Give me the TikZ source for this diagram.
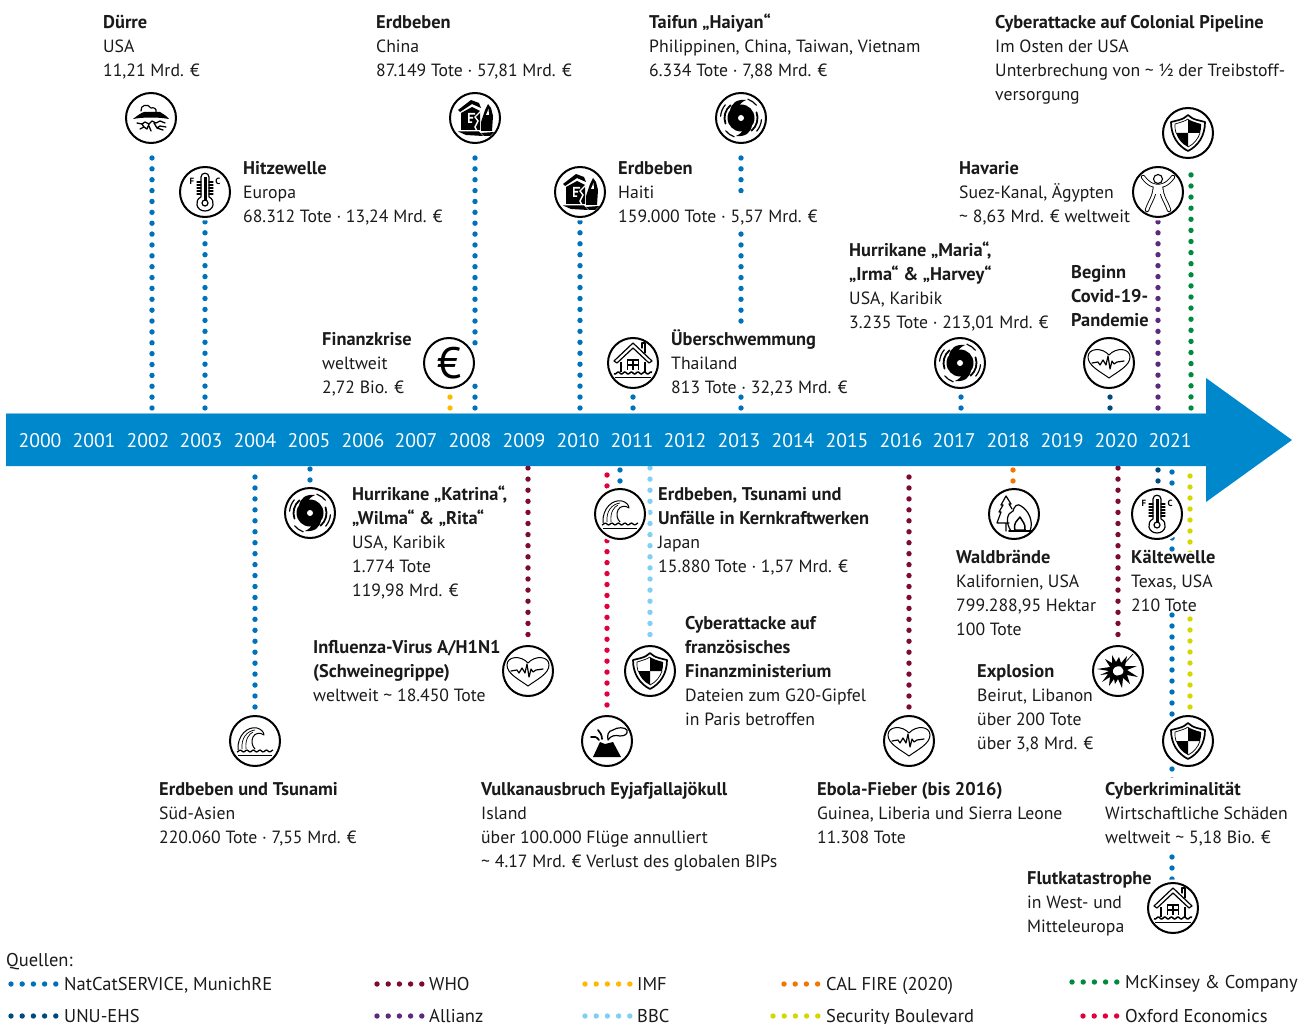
\documentclass[tikz,border=0pt]{standalone}
\usepackage{fontspec}
\setmainfont{PT Sans}
\definecolor{cBar}{HTML}{0088CC}
\definecolor{cEdge}{HTML}{7FC4E8}
\definecolor{cBlue}{HTML}{0072BC}
\definecolor{cNavy}{HTML}{004B7C}
\definecolor{cYellow}{HTML}{FFB900}
\definecolor{cSky}{HTML}{80CFF5}
\definecolor{cMaroon}{HTML}{7D0A35}
\definecolor{cPurple}{HTML}{5C2A7C}
\definecolor{cCrimson}{HTML}{E2003C}
\definecolor{cOrange}{HTML}{F07800}
\definecolor{cLime}{HTML}{D2D800}
\definecolor{cGreen}{HTML}{008A3E}
\definecolor{cText}{HTML}{1A1A1A}
\newcommand{\B}[1]{{\fontsize{18.4}{24}\selectfont\bfseries #1}}
\newcommand{\tld}{\textasciitilde{}}
\newcommand{\conn}[4][]{\draw[dotcon,#1,draw=#2] (#3) -- (#3 |- #4);}
\newcommand{\tnode}[4]{\node[txt] (#1) at (#2,#3) {\rule{0pt}{18pt}#4};}
\newcommand{\icon}[4]{\node[iconring] (#1) at (#2,#3) {}; \pic at (#1) {#4};}
\newcommand{\legdots}[5]{\draw[dotcon,dash pattern=on 0pt off #5pt,draw=#1] (#2,#4) -- (#3,#4);}
\tikzset{
  dotcon/.style={line width=5.4pt,line cap=round,dash pattern=on 0pt off 10.95pt},
  knock/.style={fill=white},
  txt/.style={anchor=north west,inner sep=0pt,align=left,text=cText,font=\fontsize{17.7}{24}\selectfont},
  leg/.style={anchor=base west,inner sep=0pt,text=cText,font=\fontsize{18.5}{24}\selectfont},
  year/.style={text=white,inner sep=0pt,font=\fontsize{19.7}{24}\selectfont},
  iconring/.style={circle,minimum size=50pt,inner sep=0pt,outer sep=0pt,draw=black,line width=2pt,fill=white,preaction={draw=white,line width=7pt}},
  ln/.style={line width=1.2pt,line join=round,line cap=round},
  pics/drought/.style={code={
    \draw[ln] (-10,-7) .. controls (-11,-13) and (-3,-15) .. (0,-10) .. controls (3,-11) and (6,-9) .. (5,-6);
    \fill (-18,1) .. controls (-13,-3) and (-10,-5) .. (-7,-6) -- (9,-6) .. controls (12,-4) and (16,-2) .. (18,1) .. controls (8,-1) and (-8,-1) .. cycle;
    \draw[ln,line width=1.3pt] (-14,5)--(-9,6)--(-6,4)--(-2,6)--(1,3)--(5,5)--(9,3)--(14,5) (-11,11)--(-7,9)--(-4,11)--(-2,6) (-2,8)--(0,13) (3,5)--(6,10)--(12,12) (-9,6)--(-7,9) (6,10)--(9,8)--(15,9);
  }},
  pics/thermo/.style={code={
    \draw[ln] (-4,5) -- (-4,-15) .. controls (-4,-20) and (4,-20) .. (4,-15) -- (4,5) .. controls (11,8) and (9,19) .. (0,19) .. controls (-9,19) and (-11,8) .. (-4,5);
    \fill (-1.5,-15) rectangle (1.5,9);
    \draw[ln] (0,11) circle (3);
    \foreach \t in {-10,-7,-4,-1,2} {\draw[ln] (-8,\t)--(-4,\t) (4,\t)--(8,\t);}
    \node[inner sep=0pt,font=\bfseries\fontsize{9}{9}\selectfont] at (-13,-11) {F};
    \node[inner sep=0pt,font=\bfseries\fontsize{9}{9}\selectfont] at (13,-11) {C};
  }},
  pics/quake/.style={code={
    \fill (-17,-8)--(-4,-18)--(4,-15)--(6,-10)--(-3,-14)--(-15,-6)--cycle;
    \fill (-14,-5)--(-3,-11)--(5,-7)--(5,12)--(-14,12)--cycle;
    \fill[white] (-7,-5) rectangle (0,-3.4) (-7,-5) rectangle (-5.4,5) (-7,-1) rectangle (-2,.6) (-7,3.4) rectangle (-3,5);
    \draw[white,line width=1.4pt] (6,-7)--(0,-1)--(3,3)--(0,9)--(2,13);
    \fill (6,4)--(10,-8)--(13,-14)--(16,-10)--(18,-2)--(17,13)--(6,13)--cycle;
    \fill[white] (11,-3)--(13.5,-9)--(14,-3)--cycle;
    \fill (-17,13.5)--(4,13.5)--(8,18)--(-9,17)--cycle (6,15)--(19,14)--(15,18)--(9,18)--cycle;
  }},
  pics/cyclone/.style={code={
    \fill (0,0) circle (13.5);
    \fill (-11,-7) .. controls (-10,-15) and (-4,-19) .. (5,-18) .. controls (1,-16) and (-2,-14) .. (-2,-10) -- cycle;
    \fill (11,7) .. controls (10,15) and (4,19) .. (-5,18) .. controls (-1,16) and (2,14) .. (2,10) -- cycle;
    \fill[white] (0,0) circle (3);
    \draw[ln,line width=1.8pt] (50:16.5) arc[start angle=50,end angle=-20,radius=16.5];
    \draw[ln,line width=1.8pt] (230:16.5) arc[start angle=230,end angle=160,radius=16.5];
    \draw[ln] (40:20.5) arc[start angle=40,end angle=5,radius=20.5];
    \draw[ln] (220:20.5) arc[start angle=220,end angle=185,radius=20.5];
    \draw[ln] (-40:20) arc[start angle=-40,end angle=-70,radius=20];
    \draw[ln] (140:20) arc[start angle=140,end angle=110,radius=20];
  }},
  pics/flood/.style={code={
    \draw[ln] (-19,-2)--(0,-20)--(19,-2)--(16,0)--(0,-15)--(-16,0)--cycle;
    \draw[ln] (9,-15)--(9,-20)--(12,-20)--(12,-10);
    \draw[line width=1.6pt] (-12,-1)--(-12,9) (12,-1)--(12,9);
    \draw[line width=1.8pt] (-5.5,7)--(-5.5,-3)--(5.5,-3)--(5.5,7) (0,-3)--(0,7) (-5.5,2)--(5.5,2);
    \draw[line width=1.5pt] plot[domain=-19:19,samples=40] (\x,{10+1*sin(\x*55)});
    \draw[line width=.8pt] (-18,14.5)--(18,14.5);
  }},
  pics/heart/.style={code={
    \draw[line width=1pt,line join=round] (0,15) .. controls (-8,9) and (-21,3) .. (-21,-6) .. controls (-21,-15) and (-7,-16) .. (0,-8) .. controls (7,-16) and (21,-15) .. (21,-6) .. controls (21,3) and (8,9) .. cycle;
    \draw[ln] (-17,0)--(-11,-1)--(-9,2)--(-6,-3)--(-3,2)--(-1,-7)--(1,6)--(3,-2)--(5,1)--(8,-1)--(15,-2);
  }},
  pics/person/.style={code={
    \draw[line width=1.1pt] (0,-13) circle (4.5);
    \foreach \w/\c in {4.4pt/black,2.6pt/white} {
      \draw[line width=\w,draw=\c,line cap=round,line join=round] (-15,-15) .. controls (-9,-7) and (-4,-6) .. (0,-6) .. controls (4,-6) and (9,-7) .. (15,-15);
      \draw[line width=\w,draw=\c,line cap=round,line join=round] (-11,18) .. controls (-8,9) and (-4,6) .. (-3,-5) -- (3,-5) .. controls (4,6) and (8,9) .. (11,18);
    }
    \fill[white] (-2.6,-6.5) rectangle (2.6,2);
  }},
  pics/shield/.style={code={
    \draw[line width=1.7pt,line join=round] (-17,-11) -- (-9,-13) .. controls (-5,-14) and (-2,-16) .. (0,-18) .. controls (2,-16) and (5,-14) .. (9,-13) -- (17,-11) .. controls (17,3) and (10,13) .. (0,18) .. controls (-10,13) and (-17,3) .. cycle;
    \fill (0,-14) .. controls (3,-12) and (6,-11) .. (13,-9) .. controls (13,-5) and (13,-3) .. (12,0) -- (0,0) -- cycle;
    \fill (-12,0) -- (0,0) -- (0,14) .. controls (-6,11) and (-10,6) .. cycle;
    \draw[line width=.7pt] (0,-14) .. controls (-3,-12) and (-6,-11) .. (-13,-9) .. controls (-13,-5) and (-13,-3) .. (-12,0);
    \draw[line width=.7pt] (12,0) .. controls (10,6) and (6,11) .. (0,14);
  }},
  pics/wave/.style={code={
    \draw[line width=1pt,line join=round] (-17,9) .. controls (-18,-6) and (-7,-15) .. (2,-13) .. controls (6,-12) and (9,-9) .. (9,-6) .. controls (5,-9) and (0,-8) .. (-2,-4) .. controls (-4,0) and (-3,5) .. (0,8);
    \draw[line width=.7pt] (-13,8) .. controls (-14,-3) and (-8,-10) .. (0,-11);
    \draw[line width=.7pt] (-9,8) .. controls (-10,-2) and (-6,-7) .. (-2,-9);
    \draw[line width=1.3pt] plot[domain=-18:18,samples=40] (\x,{10+.9*sin(\x*55)});
    \draw[line width=.9pt] (-17,14)--(17,14);
  }},
  pics/volcano/.style={code={
    \fill (-14,16)--(-7,1)--(-2,3)--(6,1)--(14,16)--cycle;
    \draw[ln,line width=1.7pt] (-16,-4) .. controls (-13,-5) and (-10,-4) .. (-8,-1);
    \draw[ln,line width=1.7pt] (-9,-11) .. controls (-7,-9) and (-5,-6) .. (-5,-2);
    \draw[ln] (1,-1) .. controls (0,-6) and (1,-10) .. (6,-11) .. controls (10,-14) and (18,-14) .. (20,-11) .. controls (21,-7) and (18,-5) .. (13,-5) .. controls (9,-6) and (4,-6) .. (1,-1);
  }},
  pics/forest/.style={code={
    \draw[ln] (-8,-18)--(-3,-10)--(-5,-10)--(-2,-5) (-8,-18)--(-13,-9)--(-11,-9)--(-15,-2)--(-13,-2)--(-17,9)--(-5,9) (-8,9)--(-8,17);
    \draw[ln] (-3,17) .. controls (-9,8) and (-7,-1) .. (-1,-3) .. controls (0,-8) and (4,-11) .. (7,-8) .. controls (14,-4) and (20,7) .. (16,17) -- cycle;
    \draw[line width=1.5pt,line join=round] (1,16) .. controls (-1,9) and (3,7) .. (6,3) .. controls (8,7) and (12,10) .. (11,16) -- cycle;
    \draw[ln,line width=1.6pt] (-5,17)--(18,17);
  }},
  pics/blast/.style={code={
    \fill (-21,-2)--(-8,-4)--(-13,-12)--(-6,-8)--(-6,-16)--(-2,-9)--(1,-14)--(3,-8)--(9,-15)--(7,-5)--(19,-5)--(9,-1)--(20,6)--(9,4)--(12,13)--(5,7)--(4,17)--(0,8)--(-3,13)--(-4,8)--(-9,15)--(-8,6)--(-16,11)--(-10,3)--(-18,4)--(-9,0)--cycle;
    \fill[white] (-5,-1) .. controls (-4,-5) and (3,-6) .. (4,-3) .. controls (7,0) and (5,4) .. (1,4) .. controls (-1,6) and (-6,3) .. cycle;
    \draw[line width=.8pt] (5,-6)--(15,-17);
  }},
}
\begin{document}
\begin{tikzpicture}[x=1pt,y=-1pt]
\useasboundingbox (0,0) rectangle (1300,1024);
% bar end points
\coordinate (a02) at (152,408); \coordinate (a03) at (205,408); \coordinate (a07) at (450,408);
\coordinate (a08) at (475,408); \coordinate (a10) at (580,408); \coordinate (a11) at (633,408);
\coordinate (a13) at (741,408); \coordinate (a17) at (961,408); \coordinate (a20) at (1110,408);
\coordinate (a21p) at (1158,408); \coordinate (a21g) at (1191,408);
\coordinate (b04) at (255,477); \coordinate (b05) at (310,469); \coordinate (b09) at (528,468);
\coordinate (b10) at (607,475); \coordinate (b11a) at (620,470); \coordinate (b11b) at (650,468);
\coordinate (b16) at (909,477); \coordinate (b18) at (1013,470); \coordinate (b20) at (1118,468);
\coordinate (b21n) at (1158,470); \coordinate (b21b) at (1172,472); \coordinate (b21l) at (1190,476);
% icon positions
\path (151,118) coordinate (pDuerre) (205,192) coordinate (pHitze) (449,363) coordinate (pEuro)
  (475,118) coordinate (pChina) (580,192) coordinate (pHaiti) (633,363) coordinate (pThai)
  (741,118) coordinate (pHaiyan) (960,363) coordinate (pMaria) (1109,363) coordinate (pCovid)
  (1158,192) coordinate (pHav) (1188,133) coordinate (pPipe)
  (255,741) coordinate (pAsien) (310,513) coordinate (pKatrina) (528,671) coordinate (pFlu)
  (607,741) coordinate (pVulkan) (620,514) coordinate (pJapan) (650,671) coordinate (pFrance)
  (909,741) coordinate (pEbola) (1014,514) coordinate (pWald) (1118,671) coordinate (pBeirut)
  (1157,514) coordinate (pTexas) (1173,908) coordinate (pFlut) (1188,741) coordinate (pCrime);
% connectors
\conn[shorten >=33pt,dash pattern=on 0pt off 10.87pt]{cBlue}{a02}{pDuerre}
\conn{cBlue}{a03}{pHitze}
\conn{cYellow}{a07}{pEuro}
\conn[shorten >=33pt,dash pattern=on 0pt off 10.87pt]{cBlue}{a08}{pChina}
\conn{cBlue}{a10}{pHaiti}
\conn{cBlue}{a11}{pThai}
\conn[shorten >=33pt,dash pattern=on 0pt off 10.87pt]{cBlue}{a13}{pHaiyan}
\conn{cBlue}{a17}{pMaria}
\conn{cNavy}{a20}{pCovid}
\conn{cPurple}{a21p}{pHav}
\conn[shorten >=36pt,dash pattern=on 0pt off 11.1pt]{cGreen}{a21g}{pPipe}
\conn{cBlue}{b04}{pAsien}
\conn{cBlue}{b05}{pKatrina}
\conn[dash pattern=on 0pt off 11.1pt]{cMaroon}{b09}{pFlu}
\conn{cCrimson}{b10}{pVulkan}
\conn{cBlue}{b11a}{pJapan}
\conn[dash pattern=on 0pt off 11.1pt]{cSky}{b11b}{pFrance}
\conn{cMaroon}{b16}{pEbola}
\conn{cOrange}{b18}{pWald}
\conn[dash pattern=on 0pt off 11.1pt]{cMaroon}{b20}{pBeirut}
\conn{cNavy}{b21n}{pTexas}
\conn[dash pattern=on 0pt off 11pt]{cBlue}{b21b}{pFlut}
\conn[dash pattern=on 0pt off 11pt]{cLime}{b21l}{pCrime}
% white knock-outs behind text
\fill[knock] (735,195) rectangle (747,228);
\fill[knock] (735,326) rectangle (747,392);
\fill[knock] (468,350) rectangle (480,378);
\fill[knock] (1165,552) rectangle (1196,612);
\fill[knock] (1165,778) rectangle (1180,852);
% bar
\fill[cEdge] (6,413) rectangle (1206,414);
\fill[cBar] (6,414) -- (1206,414) -- (1206,378) -- (1292,440) -- (1206,502) -- (1206,466) -- (6,466) -- cycle;
\foreach \n/\xx in {2000/40,2001/94,2002/148,2003/201,2004/255,2005/309,2006/363,2007/416,2008/470,2009/524,2010/578,2011/632,2012/685,2013/739,2014/793,2015/847,2016/901,2017/954,2018/1008,2019/1062,2020/1116,2021/1170}
  {\node[year] (y\n) at (\xx,441) {\n};}
% text
\tnode{tDuerre}{103}{10}{\B{Dürre}\\USA\\11,21 Mrd. €}
\tnode{tChina}{376}{10}{\B{Erdbeben}\\China\\87.149 Tote · 57,81 Mrd. €}
\tnode{tHaiyan}{649}{10}{\B{Taifun „Haiyan“}\\Philippinen, China, Taiwan, Vietnam\\6.334 Tote · 7,88 Mrd. €}
\tnode{tPipe}{995}{10}{\B{Cyberattacke auf Colonial Pipeline}\\Im Osten der USA\\Unterbrechung von \tld{} ½ der Treibstoff-\\versorgung}
\tnode{tHitze}{243}{156}{\B{Hitzewelle}\\Europa\\68.312 Tote · 13,24 Mrd. €}
\tnode{tHaiti}{618}{156}{\B{Erdbeben}\\Haiti\\159.000 Tote · 5,57 Mrd. €}
\tnode{tHav}{959}{156}{\B{Havarie}\\Suez-Kanal, Ägypten\\\tld{} 8,63 Mrd. € weltweit}
\tnode{tMaria}{849}{238}{\B{Hurrikane „Maria“,}\\\B{„Irma“ \& „Harvey“}\\USA, Karibik\\3.235 Tote · 213,01 Mrd. €}
\tnode{tCovid}{1071}{260}{\B{Beginn}\\\B{Covid-19-}\\\B{Pandemie}}
\tnode{tEuro}{322}{327}{\B{Finanzkrise}\\weltweit\\2,72 Bio. €}
\tnode{tThai}{671}{327}{\B{Überschwemmung}\\Thailand\\813 Tote · 32,23 Mrd. €}
\tnode{tKatrina}{352}{482}{\B{Hurrikane „Katrina“,}\\\B{„Wilma“ \& „Rita“}\\USA, Karibik\\1.774 Tote\\119,98 Mrd. €}
\tnode{tJapan}{658}{482}{\B{Erdbeben, Tsunami und}\\\B{Unfälle in Kernkraftwerken}\\Japan\\15.880 Tote · 1,57 Mrd. €}
\tnode{tWald}{956}{545}{\B{Waldbrände}\\Kalifornien, USA\\799.288,95 Hektar\\100 Tote}
\tnode{tTexas}{1131}{545}{\B{Kältewelle}\\Texas, USA\\210 Tote}
\tnode{tFrance}{685}{611}{\B{Cyberattacke auf}\\\B{französisches}\\\B{Finanzministerium}\\Dateien zum G20-Gipfel\\in Paris betroffen}
\tnode{tFlu}{313}{635}{\B{Influenza-Virus A/H1N1}\\\B{(Schweinegrippe)}\\weltweit \tld{} 18.450 Tote}
\tnode{tBeirut}{977}{659}{\B{Explosion}\\Beirut, Libanon\\über 200 Tote\\über 3,8 Mrd. €}
\tnode{tAsien}{159}{777}{\B{Erdbeben und Tsunami}\\Süd-Asien\\220.060 Tote · 7,55 Mrd. €}
\tnode{tVulkan}{481}{777}{\B{Vulkanausbruch Eyjafjallajökull}\\Island\\über 100.000 Flüge annulliert\\\tld{} 4.17 Mrd. € Verlust des globalen BIPs}
\tnode{tEbola}{817}{777}{\B{Ebola-Fieber (bis 2016)}\\Guinea, Liberia und Sierra Leone\\11.308 Tote}
\tnode{tCrime}{1105}{777}{\B{Cyberkriminalität}\\Wirtschaftliche Schäden\\weltweit \tld{} 5,18 Bio. €}
\tnode{tFlut}{1027}{866}{\B{Flutkatastrophe}\\in West- und\\Mitteleuropa}
% icons
\icon{iDuerre}{151}{118}{drought}
\icon{iHitze}{205}{192}{thermo}
\node[iconring,font=\fontsize{44}{44}\selectfont] (iEuro) at (449,363) {€};
\icon{iChina}{475}{118}{quake}
\icon{iHaiti}{580}{192}{quake}
\icon{iThai}{633}{363}{flood}
\icon{iHaiyan}{741}{118}{cyclone}
\icon{iMaria}{960}{363}{cyclone}
\icon{iCovid}{1109}{363}{heart}
\icon{iHav}{1158}{192}{person}
\icon{iPipe}{1188}{133}{shield}
\icon{iAsien}{255}{741}{wave}
\icon{iKatrina}{310}{513}{cyclone}
\icon{iFlu}{528}{671}{heart}
\icon{iVulkan}{607}{741}{volcano}
\icon{iJapan}{620}{514}{wave}
\icon{iFrance}{650}{671}{shield}
\icon{iEbola}{909}{741}{heart}
\icon{iWald}{1014}{514}{forest}
\icon{iBeirut}{1118}{671}{blast}
\icon{iTexas}{1157}{514}{thermo}
\icon{iFlut}{1173}{908}{flood}
\icon{iCrime}{1188}{741}{shield}
% legend
\node[leg] (lQ) at (6,966.5) {Quellen:};
\legdots{cBlue}{11}{58}{984}{11.2}\node[leg] (l1) at (64,990.5) {NatCatSERVICE, MunichRE};
\legdots{cNavy}{11}{58}{1016}{11.2}\node[leg] (l2) at (64,1022.5) {UNU-EHS};
\legdots{cMaroon}{377}{424}{984}{11.2}\node[leg] (l3) at (429,990.5) {WHO};
\legdots{cPurple}{377}{424}{1016}{11.2}\node[leg] (l4) at (429,1022.5) {Allianz};
\legdots{cYellow}{585}{632}{984}{11.2}\node[leg] (l5) at (637,990.5) {IMF};
\legdots{cSky}{585}{632}{1016}{11.2}\node[leg] (l6) at (637,1022.5) {BBC};
\legdots{cOrange}{784}{820}{984}{11.2}\node[leg] (l7) at (826,990.5) {CAL FIRE (2020)};
\legdots{cLime}{773}{820}{1016}{11.2}\node[leg] (l8) at (826,1022.5) {Security Boulevard};
\legdots{cGreen}{1072}{1119}{982}{11.2}\node[leg] (l9) at (1125,988.5) {McKinsey \& Company};
\legdots{cCrimson}{1083}{1119}{1016}{11.2}\node[leg] (l10) at (1125,1022.5) {Oxford Economics};
\end{tikzpicture}
\end{document}
